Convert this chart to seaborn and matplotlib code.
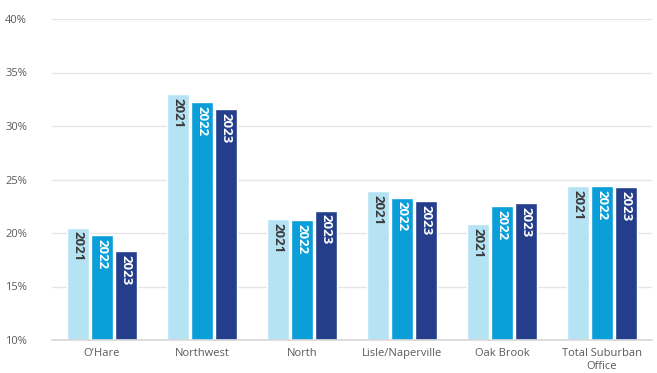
import matplotlib
matplotlib.use("Agg")
import matplotlib.pyplot as plt
import seaborn as sns
import pandas as pd

categories = ["O'Hare", "Northwest", "North", "Lisle/Naperville", "Oak Brook", "Total Suburban\nOffice"]
years = ["2021", "2022", "2023"]
v2021 = [20.5, 33.0, 21.3, 23.9, 20.8, 24.4]
v2022 = [19.8, 32.2, 21.2, 23.3, 22.5, 24.4]
v2023 = [18.3, 31.6, 22.1, 23.0, 22.8, 24.3]
colors = ["#b5e3f4", "#0b9fda", "#243e8c"]
label_colors = ["#3a3a3a", "white", "white"]

rows = []
for y, vals in zip(years, [v2021, v2022, v2023]):
    for c, v in zip(categories, vals):
        rows.append({"cat": c, "year": y, "val": v})
df = pd.DataFrame(rows)

sns.set_theme(style="white")
plt.rcParams['font.family'] = ['Open Sans', 'DejaVu Sans']

fig = plt.figure(figsize=(6.57, 3.73), dpi=100)
ax = fig.add_axes([52/657, 33/373, 600/657, 321/373])
sns.barplot(data=df, x="cat", y="val", hue="year", palette=colors,
            width=0.72, gap=0.08, ax=ax, legend=False, saturation=1)

ax.set_ylim(10, 40)
ax.set_yticks([10, 15, 20, 25, 30, 35, 40])
ax.set_yticklabels([f"{t}%" for t in [10, 15, 20, 25, 30, 35, 40]])
ax.yaxis.grid(True, color="#e6e6e6", linewidth=1)
ax.set_axisbelow(True)
for s in ["top", "right", "left"]:
    ax.spines[s].set_visible(False)
ax.spines["bottom"].set_color("#d9d9d9")
ax.tick_params(axis="both", length=0, labelsize=8, colors="#5a5a5a")
ax.tick_params(axis="y", pad=18)
ax.tick_params(axis="x", pad=6)
ax.set_xlabel("")
ax.set_ylabel("")

for i, cont in enumerate(ax.containers):
    for p in cont:
        x = p.get_x() + p.get_width() / 2
        top = p.get_y() + p.get_height()
        ax.text(x, top - 0.35, years[i], rotation=270, ha="center", va="top",
                fontsize=9.5, fontweight="bold", color=label_colors[i])

fig.savefig("out.png", dpi=100)
